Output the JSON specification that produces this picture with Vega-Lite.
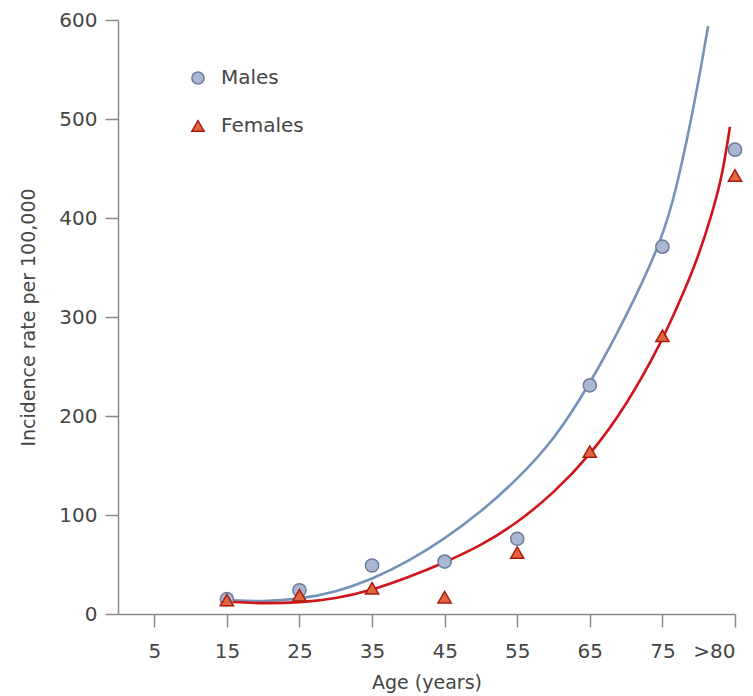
{
  "$schema": "https://vega.github.io/schema/vega-lite/v6.json",
  "width": 617,
  "height": 594,
  "autosize": "none",
  "padding": {"left": 118, "top": 20, "right": 18, "bottom": 82},
  "background": "white",
  "datasets": {
    "points": [
      {"age": 15, "rate": 15, "sex": "Males"},
      {"age": 25, "rate": 24, "sex": "Males"},
      {"age": 35, "rate": 49, "sex": "Males"},
      {"age": 45, "rate": 53, "sex": "Males"},
      {"age": 55, "rate": 76, "sex": "Males"},
      {"age": 65, "rate": 231, "sex": "Males"},
      {"age": 75, "rate": 371, "sex": "Males"},
      {"age": 85, "rate": 469, "sex": "Males"},
      {"age": 15, "rate": 14, "sex": "Females"},
      {"age": 25, "rate": 19, "sex": "Females"},
      {"age": 35, "rate": 26, "sex": "Females"},
      {"age": 45, "rate": 17, "sex": "Females"},
      {"age": 55, "rate": 62, "sex": "Females"},
      {"age": 65, "rate": 164, "sex": "Females"},
      {"age": 75, "rate": 281, "sex": "Females"},
      {"age": 85, "rate": 443, "sex": "Females"}
    ],
    "curves": [
      {"age": 15, "rate": 14, "sex": "Males"},
      {"age": 20, "rate": 12.5, "sex": "Males"},
      {"age": 25, "rate": 15, "sex": "Males"},
      {"age": 30, "rate": 22, "sex": "Males"},
      {"age": 35, "rate": 35, "sex": "Males"},
      {"age": 40, "rate": 53, "sex": "Males"},
      {"age": 45, "rate": 76, "sex": "Males"},
      {"age": 50, "rate": 103, "sex": "Males"},
      {"age": 55, "rate": 136, "sex": "Males"},
      {"age": 60, "rate": 175, "sex": "Males"},
      {"age": 65, "rate": 232, "sex": "Males"},
      {"age": 70, "rate": 300, "sex": "Males"},
      {"age": 75, "rate": 378, "sex": "Males"},
      {"age": 77, "rate": 432, "sex": "Males"},
      {"age": 79, "rate": 500, "sex": "Males"},
      {"age": 80.5, "rate": 560, "sex": "Males"},
      {"age": 81.3, "rate": 594, "sex": "Males"},
      {"age": 15, "rate": 12.5, "sex": "Females"},
      {"age": 20, "rate": 10.5, "sex": "Females"},
      {"age": 25, "rate": 11.5, "sex": "Females"},
      {"age": 30, "rate": 15.5, "sex": "Females"},
      {"age": 35, "rate": 24, "sex": "Females"},
      {"age": 40, "rate": 37, "sex": "Females"},
      {"age": 45, "rate": 52, "sex": "Females"},
      {"age": 50, "rate": 69, "sex": "Females"},
      {"age": 55, "rate": 92, "sex": "Females"},
      {"age": 60, "rate": 122, "sex": "Females"},
      {"age": 65, "rate": 160, "sex": "Females"},
      {"age": 70, "rate": 210, "sex": "Females"},
      {"age": 75, "rate": 276, "sex": "Females"},
      {"age": 78, "rate": 326, "sex": "Females"},
      {"age": 80, "rate": 362, "sex": "Females"},
      {"age": 82, "rate": 408, "sex": "Females"},
      {"age": 83.3, "rate": 445, "sex": "Females"},
      {"age": 84.3, "rate": 492, "sex": "Females"}
    ]
  },
  "encoding": {
    "x": {
      "field": "age",
      "type": "quantitative",
      "scale": {"domain": [0, 85], "nice": false, "zero": false},
      "axis": {
        "title": "Age (years)",
        "values": [5, 15, 25, 35, 45, 55, 65, 75, 85],
        "labelExpr": "datum.value == 85 ? '>80' : datum.label",
        "grid": false,
        "tickSize": 13,
        "labelPadding": 14,
        "titlePadding": 12
      }
    },
    "y": {
      "field": "rate",
      "type": "quantitative",
      "scale": {"domain": [0, 600], "nice": false},
      "axis": {
        "title": "Incidence rate per 100,000",
        "values": [0, 100, 200, 300, 400, 500, 600],
        "grid": false,
        "tickSize": 13,
        "labelPadding": 8,
        "titlePadding": 20
      }
    }
  },
  "layer": [
    {
      "data": {"name": "curves"},
      "transform": [{"filter": "datum.sex == 'Males'"}],
      "mark": {"type": "line", "interpolate": "basis", "color": "#7592b9", "strokeWidth": 2.6}
    },
    {
      "data": {"name": "curves"},
      "transform": [{"filter": "datum.sex == 'Females'"}],
      "mark": {"type": "line", "interpolate": "basis", "color": "#d0141b", "strokeWidth": 2.6}
    },
    {
      "data": {"name": "points"},
      "mark": {"type": "point", "filled": true, "strokeWidth": 1.5, "opacity": 1, "size": 175},
      "encoding": {
        "fill": {
          "field": "sex",
          "type": "nominal",
          "scale": {"domain": ["Males", "Females"], "range": ["#aab7d3", "#e2653d"]},
          "legend": {"title": null}
        },
        "stroke": {
          "field": "sex",
          "type": "nominal",
          "scale": {"domain": ["Males", "Females"], "range": ["#6c7b9b", "#a81c12"]},
          "legend": {"title": null}
        },
        "shape": {
          "field": "sex",
          "type": "nominal",
          "scale": {"domain": ["Males", "Females"], "range": ["circle", "triangle-up"]},
          "legend": {"title": null}
        }
      }
    }
  ],
  "config": {
    "font": "DejaVu Sans",
    "view": {"stroke": null},
    "axis": {
      "domainColor": "#8a8a8a",
      "tickColor": "#8a8a8a",
      "domainWidth": 1.5,
      "tickWidth": 1.5,
      "labelFont": "DejaVu Sans",
      "labelFontSize": 20,
      "labelColor": "#454545",
      "titleFont": "DejaVu Sans",
      "titleFontSize": 19,
      "titleFontWeight": "normal",
      "titleColor": "#454545"
    },
    "legend": {
      "orient": "none",
      "legendX": 70,
      "legendY": 48,
      "padding": 0,
      "rowPadding": 28,
      "symbolSize": 150,
      "symbolStrokeWidth": 1.5,
      "labelFont": "DejaVu Sans",
      "labelFontSize": 20,
      "labelColor": "#454545",
      "labelOffset": 13
    }
  }
}
